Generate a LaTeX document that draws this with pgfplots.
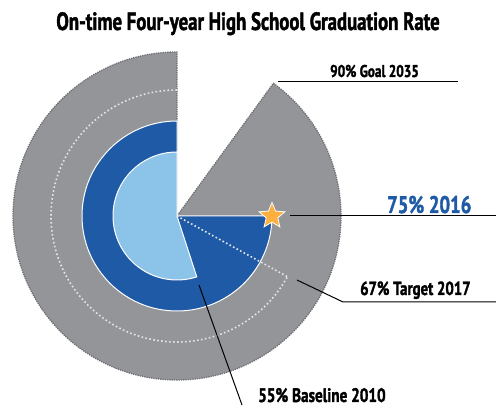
\documentclass[border=0pt]{standalone}
\usepackage{fontspec}
\setmainfont{PT Sans}[FakeStretch=0.78, BoldFeatures={FakeBold=1.6}]
\newfontfamily\titlefont{PT Sans}[FakeStretch=0.75, BoldFeatures={FakeBold=1.6}]
\usepackage{pgfplots}
\usepackage{pgfplotstable}
\pgfplotsset{compat=1.18}
\definecolor{ggray}{HTML}{939598}
\definecolor{gedge}{HTML}{6D6E71}
\definecolor{dblue}{HTML}{1F5AA6}
\definecolor{lblue}{HTML}{8CC3E9}
\definecolor{starc}{HTML}{FBB040}
\pgfplotstableread{
label value
goal 90
current 75
target 67
baseline 55
}\rates
\pgfplotstablegetelem{0}{value}\of\rates \let\vgoal\pgfplotsretval
\pgfplotstablegetelem{1}{value}\of\rates \let\vcur\pgfplotsretval
\pgfplotstablegetelem{2}{value}\of\rates \let\vtarget\pgfplotsretval
\pgfplotstablegetelem{3}{value}\of\rates \let\vbase\pgfplotsretval
\pgfmathsetmacro\agoal{90+3.6*\vgoal}
\pgfmathsetmacro\acur{90+3.6*\vcur}
\pgfmathsetmacro\atarget{90+3.6*\vtarget}
\pgfmathsetmacro\abase{90+3.6*\vbase}
\pgfdeclareplotmark{fstar}{%
  \pgfpathmoveto{\pgfpointpolar{90}{\pgfplotmarksize}}%
  \pgfpathlineto{\pgfpointpolar{126}{0.45\pgfplotmarksize}}%
  \pgfpathlineto{\pgfpointpolar{162}{\pgfplotmarksize}}%
  \pgfpathlineto{\pgfpointpolar{198}{0.45\pgfplotmarksize}}%
  \pgfpathlineto{\pgfpointpolar{234}{\pgfplotmarksize}}%
  \pgfpathlineto{\pgfpointpolar{270}{0.45\pgfplotmarksize}}%
  \pgfpathlineto{\pgfpointpolar{306}{\pgfplotmarksize}}%
  \pgfpathlineto{\pgfpointpolar{342}{0.45\pgfplotmarksize}}%
  \pgfpathlineto{\pgfpointpolar{18}{\pgfplotmarksize}}%
  \pgfpathlineto{\pgfpointpolar{54}{0.45\pgfplotmarksize}}%
  \pgfpathclose
  \pgfusepathqfillstroke}
\begin{document}
\begin{tikzpicture}
\begin{axis}[
  scale only axis, width=496pt, height=406pt,
  xmin=0, xmax=496, ymin=0, ymax=406,
  hide axis, clip=false,
]
% gray goal sector
\fill[ggray] (axis cs:177,190) -- ++(90:164pt) arc[start angle=90, end angle=\agoal, radius=164pt] -- cycle;
\draw[gedge, densely dotted, line width=1.3pt] (axis cs:177,190) -- ++(90:164pt) arc[start angle=90, end angle=\agoal, radius=164pt] -- cycle;
% target dotted arc
\draw[white!80!gray, line width=1.6pt, dash pattern=on 1.6pt off 2.4pt] (axis cs:177,190) ++(90:126pt) arc[start angle=90, end angle=\atarget, radius=126pt];
% current sector
\fill[dblue, draw=white, line width=1pt] (axis cs:177,190) -- ++(90:95pt) arc[start angle=90, end angle=\acur, radius=95pt] -- cycle;
% baseline sector
\fill[lblue, draw=white, line width=1pt] (axis cs:177,190) -- ++(90:64pt) arc[start angle=90, end angle=\abase, radius=64pt] -- cycle;
% target radial dotted line
\draw[white!80!gray, line width=1.6pt, dash pattern=on 1.6pt off 2.4pt] (axis cs:177,190) -- ++(\atarget:126pt);
% pointer lines
\addplot[black, line width=1pt, mark=none] coordinates {(278,324) (458,324)};
\addplot[black, line width=1pt, mark=none] coordinates {(290,190) (496,190)};
\addplot[black, line width=1pt, mark=none] coordinates {(297,126) (343,104) (496,104)};
\addplot[black, line width=1pt, mark=none] coordinates {(199,121) (242,1)};
% star
\addplot[only marks, mark=fstar, mark size=13.5pt, mark options={fill=starc, draw=white, line width=0.8pt}] coordinates {(272,190)};
% texts
\node[anchor=base, font=\titlefont\fontsize{25}{27}\selectfont\bfseries, inner sep=0pt] at (axis cs:248,376) {On-time Four-year High School Graduation Rate};
\node[anchor=base west, font=\fontsize{17}{19}\selectfont\bfseries, inner sep=0pt] at (axis cs:330,329) {90\% Goal 2035};
\node[anchor=base west, font=\fontsize{24}{26}\selectfont\bfseries, text=dblue, inner sep=0pt] at (axis cs:387,193) {75\% 2016};
\node[anchor=base west, font=\fontsize{19}{21}\selectfont\bfseries, inner sep=0pt] at (axis cs:360,111) {67\% Target 2017};
\node[anchor=base west, font=\fontsize{19.5}{21}\selectfont\bfseries, inner sep=0pt] at (axis cs:258,4) {55\% Baseline 2010};
\end{axis}
\pgfresetboundingbox
\path (0,0) rectangle (496pt,406pt);
\end{tikzpicture}
\end{document}
